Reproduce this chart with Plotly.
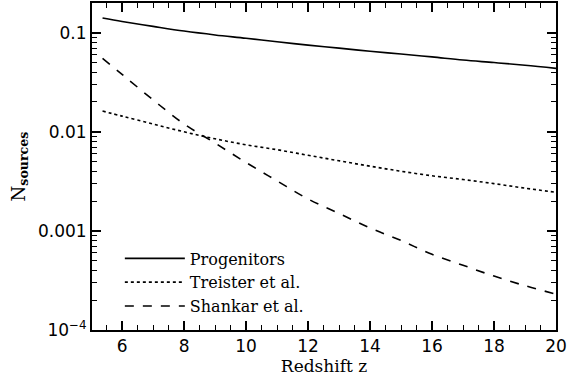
import plotly.graph_objects as go

# redshift grid and curves
z = [5.37, 6, 7, 8, 9, 10, 11, 12, 13, 14, 15, 16, 17, 18, 19, 20]
progenitors = [0.141, 0.130, 0.116, 0.104, 0.095, 0.088, 0.081, 0.075, 0.070, 0.065, 0.061, 0.057, 0.053, 0.050, 0.047, 0.0437]
treister = [0.0162, 0.0144, 0.0120, 0.0100, 0.0085, 0.0074, 0.0066, 0.0058, 0.0051, 0.0045, 0.0040, 0.0036, 0.0033, 0.0030, 0.0027, 0.00245]
shankar = [0.055, 0.038, 0.021, 0.012, 0.0077, 0.0049, 0.0032, 0.0021, 0.0015, 0.00107, 0.00080, 0.00058, 0.00045, 0.00035, 0.00028, 0.00023]

ytickvals = [1e-4, 1e-3, 1e-2, 1e-1]
yticktext = ["10<sup>−4</sup>", "0.001", "0.01", "0.1"]

fig = go.Figure()
fig.add_trace(go.Scatter(x=z, y=progenitors, name="Progenitors", mode="lines",
                         line=dict(color="black", width=1.6, shape="spline")))
fig.add_trace(go.Scatter(x=z, y=treister, name="Treister et al.", mode="lines",
                         line=dict(color="black", width=1.6, dash="dot", shape="spline")))
fig.add_trace(go.Scatter(x=z, y=shankar, name="Shankar et al.", mode="lines",
                         line=dict(color="black", width=1.6, dash="dash", shape="spline")))

axis_style = dict(showline=True, linecolor="black", linewidth=2, mirror="ticks",
                  ticks="inside", tickcolor="black", tickwidth=1.5, ticklen=9,
                  showgrid=False, zeroline=False)

fig.update_xaxes(range=[5.03, 20], dtick=2, tick0=0,
                 minor=dict(ticks="inside", dtick=0.5, ticklen=5, tickcolor="black", tickwidth=1),
                 title=dict(text="Redshift z", standoff=2,
                            font=dict(family="DejaVu Serif", size=17, color="black")),
                 tickfont=dict(family="DejaVu Sans", size=17, color="black"),
                 **axis_style)
fig.update_yaxes(type="log", range=[-4, -0.7], tickvals=ytickvals, ticktext=yticktext,
                 minor=dict(ticks="inside", dtick="D1", ticklen=5, tickcolor="black", tickwidth=1),
                 title=dict(text="N<sub><b>sources</b></sub>", standoff=8,
                            font=dict(family="DejaVu Serif", size=18, color="black")),
                 tickfont=dict(family="DejaVu Sans", size=17, color="black"),
                 **axis_style)

fig.update_layout(width=568, height=384, margin=dict(l=92, r=11, t=1, b=54),
                  paper_bgcolor="white", plot_bgcolor="white",
                  legend=dict(x=0.06, y=0.02, xanchor="left", yanchor="bottom",
                              bgcolor="rgba(0,0,0,0)", tracegroupgap=0,
                              font=dict(family="DejaVu Serif", size=16, color="black"),
                              itemwidth=60))

fig.write_html("out.html", config={"displayModeBar": False},
               post_script="document.body.style.margin='0';")
